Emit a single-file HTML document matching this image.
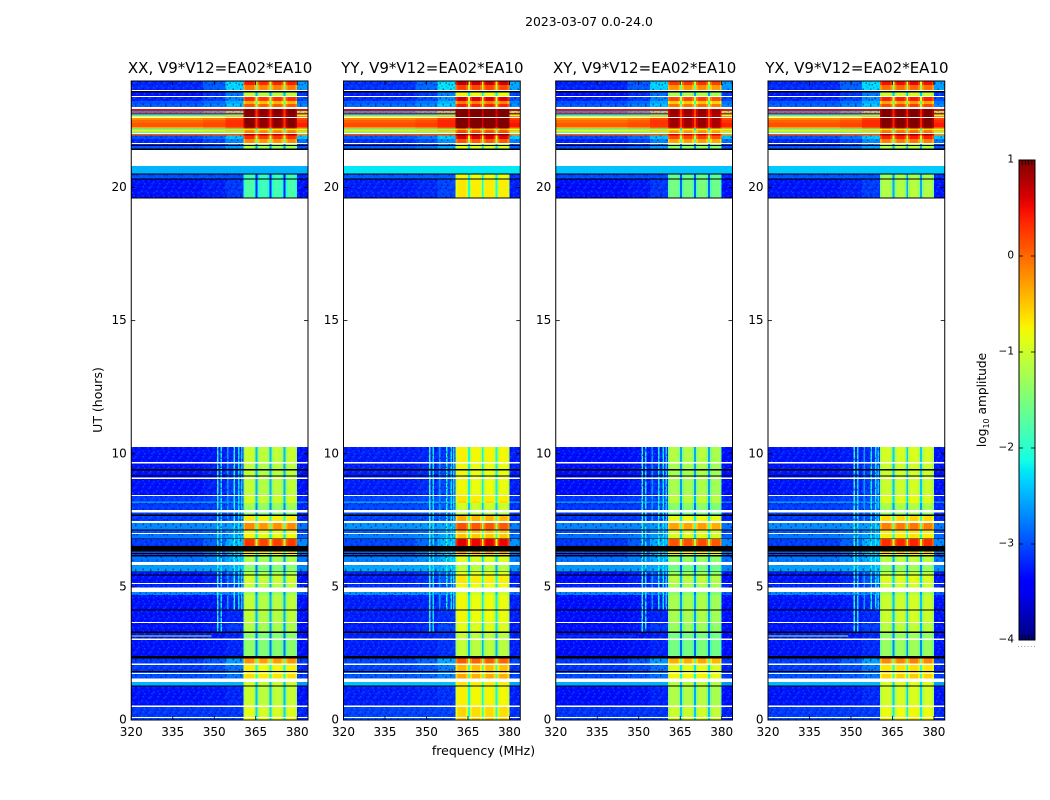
<!DOCTYPE html>
<html>
<head>
<meta charset="utf-8">
<title>2023-03-07 amplitude waterfall</title>
<style>
html,body{margin:0;padding:0;background:#fff;}
svg{display:block;}
text{font-family:"DejaVu Sans","Liberation Sans",sans-serif;fill:#000;}
</style>
</head>
<body>
<svg id="chart" xmlns="http://www.w3.org/2000/svg" width="1050" height="800" viewBox="0 0 1050 800">
<defs>
<pattern id="speckle" width="15" height="15" patternUnits="userSpaceOnUse">
<rect x="0" y="0" width="1.5" height="1.5" fill="rgba(0,0,130,.55)"/>
<rect x="3" y="1.5" width="1.5" height="1.5" fill="rgba(0,130,255,.5)"/>
<rect x="7.5" y="0" width="1.5" height="1.5" fill="rgba(0,110,255,.45)"/>
<rect x="10.5" y="1.5" width="1.5" height="1.5" fill="rgba(0,0,150,.55)"/>
<rect x="13.5" y="0" width="1.5" height="1.5" fill="rgba(0,130,255,.4)"/>
<rect x="1.5" y="3" width="1.5" height="1.5" fill="rgba(0,110,255,.5)"/>
<rect x="6" y="4.5" width="1.5" height="1.5" fill="rgba(0,0,140,.5)"/>
<rect x="9" y="3" width="1.5" height="1.5" fill="rgba(0,140,255,.45)"/>
<rect x="12" y="4.5" width="1.5" height="1.5" fill="rgba(0,0,130,.5)"/>
<rect x="0" y="6" width="1.5" height="1.5" fill="rgba(0,130,255,.45)"/>
<rect x="4.5" y="7.5" width="1.5" height="1.5" fill="rgba(0,0,150,.55)"/>
<rect x="7.5" y="6" width="1.5" height="1.5" fill="rgba(0,120,255,.5)"/>
<rect x="13.5" y="7.5" width="1.5" height="1.5" fill="rgba(0,130,255,.5)"/>
<rect x="10.5" y="7.5" width="1.5" height="1.5" fill="rgba(0,0,130,.5)"/>
<rect x="1.5" y="9" width="1.5" height="1.5" fill="rgba(0,0,140,.55)"/>
<rect x="6" y="10.5" width="1.5" height="1.5" fill="rgba(0,130,255,.5)"/>
<rect x="10.5" y="10.5" width="1.5" height="1.5" fill="rgba(0,110,255,.4)"/>
<rect x="13.5" y="9" width="1.5" height="1.5" fill="rgba(0,0,150,.5)"/>
<rect x="3" y="12" width="1.5" height="1.5" fill="rgba(0,120,255,.5)"/>
<rect x="7.5" y="13.5" width="1.5" height="1.5" fill="rgba(0,0,130,.55)"/>
<rect x="12" y="12" width="1.5" height="1.5" fill="rgba(0,130,255,.45)"/>
<rect x="0" y="13.5" width="1.5" height="1.5" fill="rgba(0,0,150,.45)"/>
</pattern>
<linearGradient id="jet-gradient" x1="0" y1="1" x2="0" y2="0"></linearGradient>
</defs>
<text x="589" y="26" font-size="12.4" text-anchor="middle">2023-03-07 0.0-24.0</text>
<text x="483.5" y="755" font-size="12.5" text-anchor="middle">frequency (MHz)</text>
<text x="102" y="400" font-size="12.5" text-anchor="middle" transform="rotate(-90 102 400)">UT (hours)</text>
<text x="986" y="400" font-size="12.2" text-anchor="middle" transform="rotate(-90 986 400)">log<tspan font-size="8" dy="3">10</tspan><tspan dy="-3"> amplitude</tspan></text>
<g id="panels"></g>
<g id="colorbar"></g>
</svg>
<script>
const N = null, K = -99;
const polarizations = ["XX", "YY", "XY", "YX"];
const baselineLabel = "V9*V12=EA02*EA10";
const xTickValues = [320, 335, 350, 365, 380];
const yTickValues = [0, 5, 10, 15, 20];
const colorTickValues = [1, 0, -1, -2, -3, -4];
const colorTickLabels = ["1", "0", "\u22121", "\u22122", "\u22123", "\u22124"];

/* UT row starts, hours (each row runs down to the next start) */
const rowHours = [
24.00,23.85,23.66,23.62,23.57,23.44,23.40,23.25,23.14,23.02,
22.95,22.87,22.80,22.74,22.69,22.65,22.61,22.54,22.42,22.27,
22.22,22.16,22.10,22.05,22.01,21.95,21.82,21.67,21.63,21.60,
21.56,21.46,21.41,20.81,20.53,20.49,20.34,20.30,19.62,19.59,
10.25,9.69,9.64,9.42,9.38,9.19,9.15,9.10,9.05,8.46,
8.41,8.21,8.15,7.89,7.79,7.71,7.67,7.47,7.40,7.16,
7.12,7.03,6.99,6.82,6.79,6.54,6.32,6.27,6.23,6.19,
6.15,5.93,5.82,5.58,5.55,5.46,5.42,5.15,5.10,4.98,
4.81,4.69,4.15,4.11,3.69,3.64,3.32,3.27,3.06,3.00,
2.40,2.31,2.12,2.07,1.84,1.80,1.77,1.73,1.55,1.43,
1.30,1.25,0.57,0.54,0.52,0.48,0.11,0.08];

/* log10 amplitude per row: N = no data (white), K = flagged (black) */
const quietLevel = [
-3.2,-3.2,N,K,-3.3,N,-3.2,-3,-2.9,N,
.5,-2.6,.5,-2,-.8,N,-.2,0,.1,-.3,
-1.6,-.7,-1.7,N,.1,-3,-3.2,N,-3.2,K,
-3,K,N,-2.5,K,-3,K,-3.3,K,N,
-3.3,N,-3.3,K,-3.3,K,-3.3,N,-3.3,N,
-3.1,-2.6,-3.1,N,-3.1,K,-3.1,N,-2.7,K,
-3,N,-2.8,K,-3.1,K,-3,K,-3,K,
-2.8,N,-2.6,K,-3.3,K,-3.3,N,-3.2,N,
-2.7,-3.3,K,-3.3,N,-3.3,K,-3.3,N,-3.3,
K,-3.1,N,-3.1,K,-3,N,-3,N,-2.5,
K,-3.3,N,-3.2,N,-3.1,N,-3];
const shoulderLevel = [
-2.3,-2.3,N,K,-2.8,N,-2.7,-2.5,-2.4,N,
.5,-2,.5,-1.5,-.5,N,.2,.3,.3,.1,
-1.4,-.5,-1.5,N,.1,-2.4,-2.7,N,-2.8,K,
-2.6,K,N,-2.5,K,-3,K,-3.1,K,N,
-3.2,N,-3.1,K,-3.1,K,-3.1,N,-3.1,N,
-3,-2.6,-3,N,-3,K,-3,N,-2.6,K,
-2.7,N,-2.6,K,-2.5,K,-2.5,K,-2.5,K,
-2.5,N,-2.5,K,-3,K,-3,N,-3.1,N,
-2.7,-3.2,K,-3.2,N,-3.1,K,-3.2,N,-3.2,
K,-2.6,N,-2.8,K,-2.8,N,-2.8,N,-2.5,
K,-3.2,N,-3.2,N,-3.1,N,-3];
const upperEdgeLevel = [
-2.6,-2.6,N,K,-3.1,N,-3,-2.8,-2.7,N,
.5,-1.5,.5,-1,-.2,N,.2,.3,.4,.1,
-1,-.5,-1.4,N,-.2,-2.4,-2.8,N,-3.1,K,
-3,K,N,-2.5,K,-3.2,K,-3.3,K,N,
-3.3,N,-3.3,K,-3.3,K,-3.3,N,-3.3,N,
-3.2,-2.7,-3.2,N,-3.2,K,-3.2,N,-2.8,K,
-3,N,-2.9,K,-2.7,K,-2.8,K,-2.9,K,
-2.8,N,-2.7,K,-3.3,K,-3.3,N,-3.2,N,
-2.9,-3.3,K,-3.3,N,-3.3,K,-3.3,N,-3.3,
K,-3.1,N,-3.2,K,-3.1,N,-3.1,N,-2.6,
K,-3.3,N,-3.2,N,-3.2,N,-3.2];
const passbandLevel = [
.3,-.2,N,K,-1.2,N,.2,-.5,0,N,
.9,.9,.9,.8,.9,N,.9,.9,.9,.7,
-.8,-.3,-.2,N,.7,.2,-.3,N,-1.5,K,
-1.3,K,N,-2.5,K,-2,K,-1.9,K,N,
-1.15,N,-1.2,K,-1.2,K,-1.2,N,-1.2,N,
-1.1,-1,-1.4,N,-1.5,K,-.8,N,-.3,K,
-.9,N,-.9,K,.15,K,-.7,K,-1,K,
-1.3,N,-1.5,K,-1.3,K,-1.1,N,-1.2,N,
-1.4,-1.2,K,-1.2,N,-1.3,K,-1.5,N,-1.5,
K,-.35,N,-.85,K,-.8,N,-.75,N,-1.1,
K,-1.15,N,-1.1,N,-1,N,-.9];

/* frequency channel groups, MHz */
const channelEdges = [320, 346, 354, 360.5,
  361.2, 364.3, 365, 365.7,
  366.4, 369.3, 370, 370.7,
  371.4, 374.3, 375, 375.7,
  376.4, 379.3, 380, 384];
const channelRole = ["quiet", "ramp", "shoulder",
  "edge", "centre", "edge", "notch",
  "edge", "centre", "edge", "notch",
  "edge", "centre", "edge", "notch",
  "edge", "centre", "edge", "upper"];
const channelSubband = [0, 0, 0, 0, 0, 0, 0, 1, 1, 1, 1, 2, 2, 2, 2, 3, 3, 3, 3];
const polarizationGain = [0, 0.3, -0.1, 0.1];
const subbandGainXX = [0.05, -0.03, 0, 0.03];
const subbandGainYY = [0.05, 0, 0.02, 0];
const subbandGainXY = [0, 0, 0.03, -0.05];
const subbandGainYX = [0, 0.02, 0.05, 0];
const edgeRolloff = [-0.18];
const centreBoost = [0.08];
const notchDepth = [-1.3, -0.6];

/* 20 h block has different gains per polarization */
const earlyBandGain = [0, 0.8, 0.4, 0.55];
const earlyBlockHours = [19.59, 20.53];
const cyanRowGain = [0, 0.2, 0.1, 0.1];
const cyanRowHour = [20.81];

/* narrow interference lines: frequency, level, hour they stop */
const lineFrequency = [351, 352.2, 354.6, 357, 358.6, 359.6];
const lineLevel = [-2, -2.2, -2.6, -2.1, -2.2, -2.3];
const lineStopHour = [3.3, 3.3, 3.9, 3.75, 3.8, 3.7];
const lineStartHour = [10.25];

/* short-lived 3.2 h spur below 349 MHz */
const spurHour = [3.18, 3.13];
const spurFrequency = [320, 349];
const spurLevel = [-1.1, -3.2, -3, -1.2];

const xMin = 320, xMax = 383.9, yMin = 0, yMax = 24;
const panelLeft = [131.25, 343.5, 555.75, 768], panelWidth = 176.75, panelTop = 81, panelBottom = 720;
const NS = "http://www.w3.org/2000/svg";
const subbandGains = [subbandGainXX, subbandGainYY, subbandGainXY, subbandGainYX];

function xPos(p, f) { return panelLeft[p] + (f - xMin) / (xMax - xMin) * panelWidth; }
function yPos(h) { return panelBottom - (h - yMin) / (yMax - yMin) * (panelBottom - panelTop); }
function ramp(t, pts) {
  for (let i = 1; i < pts.length; i++) {
    if (t <= pts[i][0]) {
      const a = pts[i - 1], b = pts[i];
      return a[1] + (b[1] - a[1]) * (t - a[0]) / (b[0] - a[0]);
    }
  }
  return pts[pts.length - 1][1];
}
function jet(t) {
  t = Math.max(0, Math.min(1, t));
  const r = ramp(t, [[0, 0], [.35, 0], [.66, 1], [.89, 1], [1, .5]]);
  const g = ramp(t, [[0, 0], [.125, 0], [.375, 1], [.64, 1], [.91, 0], [1, 0]]);
  const b = ramp(t, [[0, .5], [.11, 1], [.34, 1], [.65, 0], [1, 0]]);
  return "rgb(" + Math.round(r * 255) + "," + Math.round(g * 255) + "," + Math.round(b * 255) + ")";
}
function colorOf(v) { return jet((v + 4) / 5); }
function make(tag, parent, attrs) {
  const el = document.createElementNS(NS, tag);
  for (const k in attrs) el.setAttribute(k, attrs[k]);
  parent.appendChild(el);
  return el;
}
function cellValue(p, r, c) {
  const role = channelRole[c];
  const hour = rowHours[r];
  const cyanGain = hour === cyanRowHour[0] ? cyanRowGain[p] : 0;
  const qGain = polarizationGain[p] * 0.2 + cyanGain;
  if (role === "quiet") return quietLevel[r] + qGain;
  if (role === "ramp") return quietLevel[r] + 0.3 * (shoulderLevel[r] - quietLevel[r]) + qGain;
  if (role === "shoulder") return shoulderLevel[r] + qGain;
  if (role === "upper") return upperEdgeLevel[r] + qGain;
  if (passbandLevel[r] <= -2.2) return passbandLevel[r] + qGain;
  let base = passbandLevel[r] + polarizationGain[p];
  if (hour <= earlyBlockHours[1] && hour > earlyBlockHours[0]) base += earlyBandGain[p];
  if (role === "notch") return base + (passbandLevel[r] > 0.5 ? notchDepth[1] : notchDepth[0]);
  const shape = role === "edge" ? edgeRolloff[0] : centreBoost[0];
  return base + shape + subbandGains[p][channelSubband[c]];
}

function drawPanel(p, root) {
  const g = make("g", root, { "shape-rendering": "crispEdges" });
  
  
  const x0 = xPos(p, xMin), w = panelWidth;
  for (let r = 0; r < rowHours.length; r++) {
    if (quietLevel[r] === null) continue;
    const hTop = rowHours[r];
    const hBot = r + 1 < rowHours.length ? rowHours[r + 1] : 0;
    const y0 = yPos(hTop), y1 = yPos(hBot);
    if (quietLevel[r] === K) {
      const blk = make("rect", g, { x: x0, y: y0, width: w, height: y1 - y0, fill: "#000" });
      
      
      continue;
    }
    for (let c = 0; c < channelEdges.length - 1; c++) {
      const a = xPos(p, channelEdges[c]), b = xPos(p, channelEdges[c + 1]);
      const cell = make("rect", g, { x: a, y: y0, width: b - a, height: y1 - y0, fill: colorOf(cellValue(p, r, c)) });
      
      
    }
    if (hTop <= lineStartHour[0]) {
      for (let j = 0; j < lineFrequency.length; j++) {
        if (hBot < lineStopHour[j]) continue;
        const lx = xPos(p, lineFrequency[j]);
        const line = make("rect", g, { x: lx, y: y0, width: 1.5, height: y1 - y0, fill: colorOf(lineLevel[j]) });
        
        
      }
    }
    if (quietLevel[r] < -2.55) {
      const s1 = make("rect", g, { x: x0, y: y0, width: xPos(p, channelEdges[3]) - x0, height: y1 - y0, fill: "url(#speckle)" });
      
      
      const up = channelEdges[channelEdges.length - 2];
      const s2 = make("rect", g, { x: xPos(p, up), y: y0, width: xPos(p, xMax) - xPos(p, up), height: y1 - y0, fill: "url(#speckle)" });
      
      
    }
  }
  const spur = make("rect", g, {
    x: xPos(p, spurFrequency[0]), y: yPos(spurHour[0]),
    width: xPos(p, spurFrequency[1]) - xPos(p, spurFrequency[0]),
    height: yPos(spurHour[1]) - yPos(spurHour[0]), fill: colorOf(spurLevel[p])
  });
  
  

  const frame = make("rect", root, { x: x0, y: panelTop, width: w, height: panelBottom - panelTop, fill: "none", stroke: "#000", "stroke-width": 1 });
  
  

  xTickValues.forEach(function (v) {
    const x = xPos(p, v);
    const t1 = make("line", root, { x1: x, x2: x, y1: panelBottom, y2: panelBottom - 4, stroke: "#000", "stroke-width": 0.8 });
    
    
    const t2 = make("line", root, { x1: x, x2: x, y1: panelTop, y2: panelTop + 4, stroke: "#000", "stroke-width": 0.8 });
    
    
    const lab = make("text", root, { x: x, y: panelBottom + 16, "font-size": 12, "text-anchor": "middle" });
    lab.textContent = String(v);
    
    
  });
  yTickValues.forEach(function (v) {
    const y = yPos(v);
    const t1 = make("line", root, { x1: x0, x2: x0 + 4, y1: y, y2: y, stroke: "#000", "stroke-width": 0.8 });
    
    
    const t2 = make("line", root, { x1: x0 + w, x2: x0 + w - 4, y1: y, y2: y, stroke: "#000", "stroke-width": 0.8 });
    
    
    const lab = make("text", root, { x: x0 - 4.5, y: y + 3.5, "font-size": 12, "text-anchor": "end" });
    lab.textContent = String(v);
    
    
  });
  const title = make("text", root, { x: x0 + w / 2 + 0.5, y: panelTop - 8, "font-size": 15, "text-anchor": "middle" });
  title.textContent = polarizations[p] + ", " + baselineLabel;
  
  
}

function drawColorbar() {
  const root = document.getElementById("colorbar");
  const grad = document.getElementById("jet-gradient");
  for (let i = 0; i <= 40; i++) {
    make("stop", grad, { offset: (i / 40), "stop-color": jet(i / 40) });
  }
  const cx = 1019, cw = 16, cTop = 160, cBot = 640;
  const cy = function (v) { return cBot - (v + 4) / 5 * (cBot - cTop); };
  const bar = make("rect", root, { x: cx, y: cTop, width: cw, height: cBot - cTop, fill: "url(#jet-gradient)", stroke: "#000", "stroke-width": 1 });
  
  
  colorTickValues.forEach(function (v, i) {
    const y = cy(v);
    const t1 = make("line", root, { x1: cx, x2: cx + 4, y1: y, y2: y, stroke: "#000", "stroke-width": 0.8 });
    
    
    const t2 = make("line", root, { x1: cx + cw, x2: cx + cw - 4, y1: y, y2: y, stroke: "#000", "stroke-width": 0.8 });
    
    
    const lab = make("text", root, { x: cx - 5, y: y + 2.5, "font-size": 10.5, "text-anchor": "end" });
    lab.textContent = colorTickLabels[i];
    
    
  });
  for (let i = 1; i < 5; i++) {
    const x = cx + i * cw / 5;
    const a = make("line", root, { x1: x, x2: x, y1: cTop, y2: cTop + 5, stroke: "#000", "stroke-width": 0.8 });
    
    
    const b = make("line", root, { x1: x, x2: x, y1: cBot, y2: cBot - 5, stroke: "#000", "stroke-width": 0.8 });
    
    
  }
  for (let i = 0; i < 6; i++) {
    const d = make("rect", root, { x: cx - 1 + i * 3.2, y: 646, width: 1, height: 1, fill: "#999" });
    
    
  }
}

const panelsRoot = document.getElementById("panels");
polarizations.forEach(function (pol, p) {
  const g = make("g", panelsRoot, {});
  
  
  drawPanel(p, g);
});
drawColorbar();
</script>
</body>
</html>
